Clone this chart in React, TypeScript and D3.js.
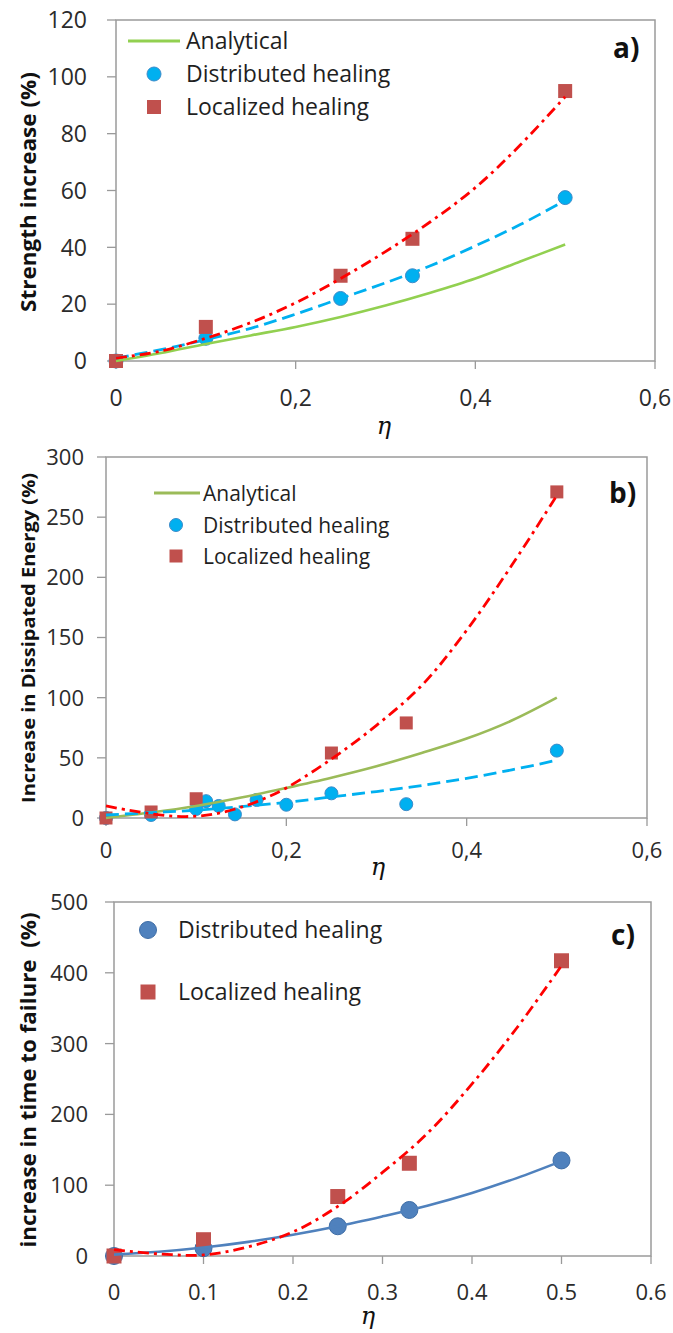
import React, { useEffect, useRef } from "react";
import * as d3 from "d3";

// ---- a) strength increase ----
const etaTests = [0, 0.1, 0.25, 0.33, 0.5];
const strengthDistributed = [0, 8, 22, 30, 57.5];
const strengthLocalized = [0, 12, 30, 43, 95];

const etaCurve = [0, 0.05, 0.1, 0.15, 0.2, 0.25, 0.3, 0.35, 0.4, 0.45, 0.5];
const strengthAnalytical = [0, 2.8, 6, 9, 12, 15.5, 19.5, 24, 29, 35, 41];
const strengthDistFit = [1, 4, 7.5, 11.5, 16.5, 22, 27.5, 33.5, 40.5, 48, 56.5];
const strengthLocFit = [1, 3.5, 8, 13.5, 20.5, 29, 38.5, 49, 61, 76, 93];

// ---- b) dissipated energy ----
const etaEnergyDist = [0, 0.05, 0.1, 0.111, 0.125, 0.143, 0.167, 0.2, 0.25, 0.333, 0.5];
const energyDistributed = [0, 2.5, 7.5, 14, 10, 3, 15, 11, 20.5, 11.5, 56];
const etaEnergyLoc = [0, 0.05, 0.1, 0.25, 0.333, 0.5];
const energyLocalized = [0, 5, 16, 54, 79, 271];

const energyAnalytical = [0, 4.5, 10, 17, 25, 33.5, 43, 54, 66, 81, 100];
const energyDistFit = [2.5, 4.5, 6.5, 9.5, 13, 17.5, 22, 27, 33, 40, 48];
const etaEnergyLocFit = [0, 0.025, 0.05, 0.075, 0.1, 0.125, 0.15, 0.175, 0.2, 0.25, 0.3, 0.35, 0.4, 0.45, 0.5];
const energyLocFit = [10, 6.5, 3.5, 1.5, 1.5, 4, 9, 16, 25, 49, 77, 110, 156, 210, 268];

// ---- c) time to failure ----
const timeDistributed = [0, 11, 42, 65, 135];
const timeLocalized = [0, 23, 84, 131, 417];
const timeDistFit = [2, 6, 12, 20, 30, 42, 56, 71, 89, 110, 134];
const timeLocFit = [9, 3, 1.5, 13, 34, 70, 118, 173, 243, 322, 410];

// ---- ticks ----
const yTicksA = [0, 20, 40, 60, 80, 100, 120];
const yTicksB = [0, 50, 100, 150, 200, 250, 300];
const yTicksC = [0, 100, 200, 300, 400, 500];
const xTicksAB = [0, 0.2, 0.4, 0.6];
const xLabelsAB = ["0", "0,2", "0,4", "0,6"];
const xTicksC = [0, 0.1, 0.2, 0.3, 0.4, 0.5, 0.6];
const xLabelsC = ["0", "0.1", "0.2", "0.3", "0.4", "0.5", "0.6"];

const FONT = "'Open Sans', 'DejaVu Sans', sans-serif";
const RED_SQ = "#C0504D";
const CYAN = "#00B0F0";
const RED_LINE = "#FF0000";
const DASH_DOT = "11,5,3,5";
const DASH = "13,6";

const panels = [
    {
        top: 20, bottom: 361, left: 116, right: 655, yMax: 120,
        yTicks: yTicksA, xTicks: xTicksAB, xLabels: xLabelsAB,
        tickFont: 23, yTickRight: 87, xTickBase: 406,
        etaX: 384, etaY: 434,
        title: "Strength increase (%)", titleX: 36, titleY: 192, titleLen: 240, titleFont: 21,
        tag: "a)", tagX: 613, tagY: 58,
        markers: [
            { xs: etaTests, ys: strengthDistributed, shape: "circle", fill: CYAN, stroke: "#3D8BC9", size: 7 },
            { xs: etaTests, ys: strengthLocalized, shape: "square", fill: RED_SQ, stroke: "none", size: 14 }
        ],
        lines: [
            { xs: etaCurve, ys: strengthAnalytical, color: "#92D050", width: 2.6, dash: null },
            { xs: etaCurve, ys: strengthDistFit, color: CYAN, width: 2.8, dash: DASH },
            { xs: etaCurve, ys: strengthLocFit, color: RED_LINE, width: 2.8, dash: DASH_DOT }
        ],
        legendFont: 23,
        legend: [
            { type: "line", label: "Analytical", color: "#92D050", cx: 154, cy: 41, x0: 128, x1: 180, tx: 186 },
            { type: "circle", label: "Distributed healing", color: CYAN, stroke: "#3D8BC9", cx: 154, cy: 74, size: 7, tx: 186 },
            { type: "square", label: "Localized healing", color: RED_SQ, cx: 154, cy: 107, size: 14, tx: 186 }
        ]
    },
    {
        top: 457, bottom: 818, left: 106, right: 647, yMax: 300,
        yTicks: yTicksB, xTicks: xTicksAB, xLabels: xLabelsAB,
        tickFont: 22, yTickRight: 84, xTickBase: 858,
        etaX: 378, etaY: 875,
        title: "Increase in Dissipated Energy (%)", titleX: 35, titleY: 638, titleLen: 330, titleFont: 18,
        tag: "b)", tagX: 609, tagY: 503,
        markers: [
            { xs: etaEnergyDist, ys: energyDistributed, shape: "circle", fill: CYAN, stroke: "#3D8BC9", size: 6.5 },
            { xs: etaEnergyLoc, ys: energyLocalized, shape: "square", fill: RED_SQ, stroke: "none", size: 13 }
        ],
        lines: [
            { xs: etaCurve, ys: energyAnalytical, color: "#9BBB59", width: 2.6, dash: null },
            { xs: etaCurve, ys: energyDistFit, color: CYAN, width: 2.8, dash: DASH },
            { xs: etaEnergyLocFit, ys: energyLocFit, color: RED_LINE, width: 2.8, dash: DASH_DOT }
        ],
        legendFont: 21,
        legend: [
            { type: "line", label: "Analytical", color: "#9BBB59", cx: 176, cy: 493, x0: 154, x1: 200, tx: 203 },
            { type: "circle", label: "Distributed healing", color: CYAN, stroke: "#3D8BC9", cx: 176, cy: 525, size: 6.5, tx: 203 },
            { type: "square", label: "Localized healing", color: RED_SQ, cx: 176, cy: 556, size: 13, tx: 203 }
        ]
    },
    {
        top: 902, bottom: 1256, left: 114, right: 651, yMax: 500,
        yTicks: yTicksC, xTicks: xTicksC, xLabels: xLabelsC,
        tickFont: 22, yTickRight: 88, xTickBase: 1300,
        etaX: 368, etaY: 1324,
        title: "increase in time to failure  (%)", titleX: 36, titleY: 1080, titleLen: 335, titleFont: 21,
        tag: "c)", tagX: 611, tagY: 945,
        markers: [
            { xs: etaTests, ys: timeDistributed, shape: "circle", fill: "#4F81BD", stroke: "#3E6DA6", size: 8.5 },
            { xs: etaTests, ys: timeLocalized, shape: "square", fill: RED_SQ, stroke: "none", size: 15 }
        ],
        lines: [
            { xs: etaCurve, ys: timeDistFit, color: "#4F81BD", width: 2.6, dash: null },
            { xs: etaCurve, ys: timeLocFit, color: RED_LINE, width: 2.8, dash: DASH_DOT }
        ],
        legendFont: 23,
        legend: [
            { type: "circle", label: "Distributed healing", color: "#4F81BD", stroke: "#3E6DA6", cx: 148, cy: 930, size: 8.5, tx: 178 },
            { type: "square", label: "Localized healing", color: RED_SQ, cx: 148, cy: 992, size: 15, tx: 178 }
        ]
    }
];

function drawPanel(svg, p) {
    const x = d3.scaleLinear().domain([0, 0.6]).range([p.left, p.right]);
    const y = d3.scaleLinear().domain([0, p.yMax]).range([p.bottom, p.top]);
    const g = svg.append("g");

    // y ticks + labels
    g.selectAll(".ytick").data(p.yTicks).enter().append("line")
        .attr("x1", p.left - 9).attr("x2", p.left)
        .attr("y1", d => y(d)).attr("y2", d => y(d))
        .attr("stroke", "#9a9a9a").attr("stroke-width", 1.3);
    g.selectAll(".ylab").data(p.yTicks).enter().append("text")
        .attr("x", p.yTickRight)
        .attr("y", d => y(d) + p.tickFont * 0.36)
        .attr("text-anchor", "end")
        .style("font-family", FONT).style("font-size", p.tickFont + "px")
        .style("fill", "#2b2b2b")
        .text(d => d);

    // x ticks + labels
    g.selectAll(".xtick").data(p.xTicks).enter().append("line")
        .attr("x1", d => x(d)).attr("x2", d => x(d))
        .attr("y1", p.bottom).attr("y2", p.bottom + 8)
        .attr("stroke", "#9a9a9a").attr("stroke-width", 1.3);
    g.selectAll(".xlab").data(p.xTicks).enter().append("text")
        .attr("x", d => x(d))
        .attr("y", p.xTickBase)
        .attr("text-anchor", "middle")
        .style("font-family", FONT).style("font-size", p.tickFont + "px")
        .style("fill", "#2b2b2b")
        .text((d, i) => p.xLabels[i]);

    // plot frame
    g.append("rect")
        .attr("x", p.left).attr("y", p.top)
        .attr("width", p.right - p.left).attr("height", p.bottom - p.top)
        .attr("fill", "none").attr("stroke", "#9a9a9a").attr("stroke-width", 1.5);

    // markers
    p.markers.forEach(m => {
        const pts = d3.zip(m.xs, m.ys);
        if (m.shape === "circle") {
            g.selectAll(null).data(pts).enter().append("circle")
                .attr("cx", d => x(d[0])).attr("cy", d => y(d[1]))
                .attr("r", m.size)
                .attr("fill", m.fill).attr("stroke", m.stroke).attr("stroke-width", 1);
        } else {
            g.selectAll(null).data(pts).enter().append("rect")
                .attr("x", d => x(d[0]) - m.size / 2).attr("y", d => y(d[1]) - m.size / 2)
                .attr("width", m.size).attr("height", m.size)
                .attr("fill", m.fill);
        }
    });

    // curves / trend lines
    const line = d3.line().x(d => x(d[0])).y(d => y(d[1])).curve(d3.curveCatmullRom);
    p.lines.forEach(l => {
        g.append("path")
            .attr("d", line(d3.zip(l.xs, l.ys)))
            .attr("fill", "none")
            .attr("stroke", l.color)
            .attr("stroke-width", l.width)
            .attr("stroke-dasharray", l.dash);
    });

    // legend
    p.legend.forEach(it => {
        if (it.type === "line") {
            g.append("line").attr("x1", it.x0).attr("x2", it.x1)
                .attr("y1", it.cy).attr("y2", it.cy)
                .attr("stroke", it.color).attr("stroke-width", 3);
        } else if (it.type === "circle") {
            g.append("circle").attr("cx", it.cx).attr("cy", it.cy).attr("r", it.size)
                .attr("fill", it.color).attr("stroke", it.stroke).attr("stroke-width", 1);
        } else {
            g.append("rect").attr("x", it.cx - it.size / 2).attr("y", it.cy - it.size / 2)
                .attr("width", it.size).attr("height", it.size).attr("fill", it.color);
        }
        g.append("text")
            .attr("x", it.tx).attr("y", it.cy + p.legendFont * 0.36)
            .style("font-family", FONT).style("font-size", p.legendFont + "px")
            .style("fill", "#1f1f1f")
            .text(it.label);
    });

    // panel tag
    g.append("text")
        .attr("x", p.tagX).attr("y", p.tagY)
        .style("font-family", FONT).style("font-size", "28px").style("font-weight", "bold")
        .style("fill", "#111")
        .text(p.tag);

    // y title
    g.append("text")
        .attr("transform", "translate(" + [p.titleX, p.titleY] + ") rotate(-90)")
        .attr("text-anchor", "middle")
        .attr("textLength", p.titleLen)
        .attr("lengthAdjust", "spacingAndGlyphs")
        .style("white-space", "pre")
        .style("font-family", FONT).style("font-size", p.titleFont + "px").style("font-weight", "bold")
        .style("fill", "#111")
        .text(p.title);

    // x title
    g.append("text")
        .attr("x", p.etaX).attr("y", p.etaY)
        .attr("text-anchor", "middle")
        .style("font-family", "'DejaVu Serif', serif").style("font-style", "italic").style("font-size", "24px")
        .style("fill", "#111")
        .text("η");
}

export default function App() {
    const ref = useRef(null);

    useEffect(() => {
        const svg = d3.select(ref.current);
        svg.selectAll("*").remove();
        svg.append("rect").attr("width", 673).attr("height", 1333).attr("fill", "#fff");
        panels.forEach(p => drawPanel(svg, p));
    }, []);

    return (
        <svg ref={ref} width={673} height={1333}
            style={{ position: "absolute", left: 0, top: 0, display: "block" }} />
    );
}
